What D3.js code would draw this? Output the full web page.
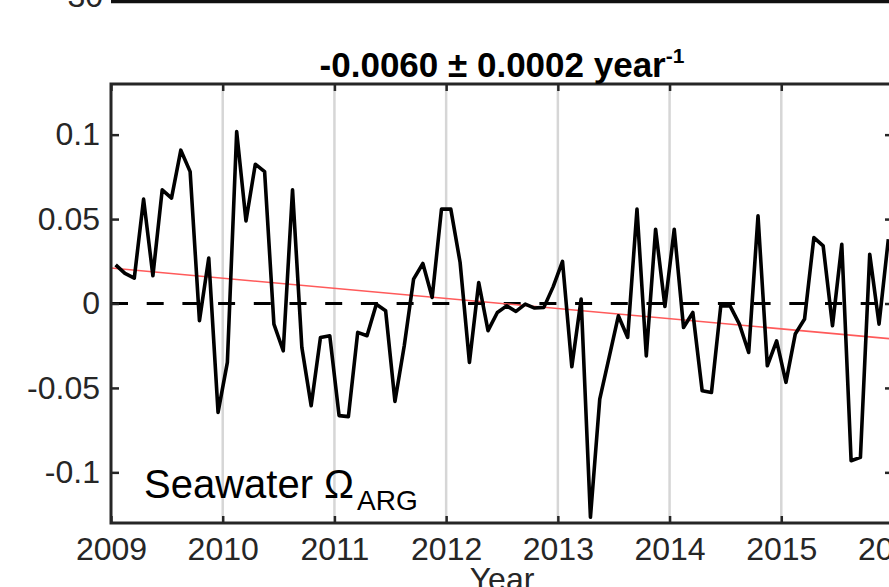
<!DOCTYPE html>
<html>
<head>
<meta charset="utf-8">
<script src="https://cdn.jsdelivr.net/npm/d3@7"></script>
<style>
  html, body { margin: 0; padding: 0; background: #fff; overflow: hidden; }
  svg { display: block; }
  text { font-family: "Liberation Sans", Arial, Helvetica, sans-serif; }
</style>
</head>
<body>
<svg id="chart" width="889" height="587"></svg>
<script>
// Monthly seawater aragonite saturation anomaly, Jan 2009 - Dec 2015
const startYear = 2009;
const anomaly2009 = [0.0229, 0.0178, 0.0150, 0.0618, 0.0164, 0.0673, 0.0624, 0.0908, 0.0781, -0.0102, 0.0269, -0.0645];
const anomaly2010 = [-0.0349, 0.1018, 0.0489, 0.0825, 0.0781, -0.0122, -0.0280, 0.0673, -0.0260, -0.0605, -0.0201, -0.0191];
const anomaly2011 = [-0.0664, -0.0670, -0.0171, -0.0191, -0.0004, -0.0043, -0.0580, -0.0250, 0.0144, 0.0237, 0.0036, 0.0559];
const anomaly2012 = [0.0559, 0.0243, -0.0349, 0.0124, -0.0161, -0.0053, -0.0014, -0.0047, -0.0004, -0.0027, -0.0023, 0.0100];
const anomaly2013 = [0.0249, -0.0375, 0.0026, -0.1266, -0.0566, -0.0320, -0.0073, -0.0201, 0.0559, -0.0310, 0.0440, -0.0018];
const anomaly2014 = [0.0440, -0.0142, -0.0053, -0.0517, -0.0527, -0.0014, -0.0014, -0.0122, -0.0290, 0.0519, -0.0369, -0.0221];
const anomaly2015 = [-0.0467, -0.0181, -0.0092, 0.0390, 0.0341, -0.0132, 0.0351, -0.0931, -0.0911, 0.0292, -0.0122, 0.0381];

// Linear trend: slope (per year) and the year where it crosses zero
const trendSlope = -0.0060;
const trendSlopeErr = 0.0002;
const trendZeroYear = 2012.5;

const xTickYears = [2009, 2010, 2011, 2012, 2013, 2014, 2015, 2016];
const yTickValues = [0.1, 0.05, 0, -0.05, -0.1];
const yTickLabels = ["0.1", "0.05", "0", "-0.05", "-0.1"];

const series = [anomaly2009, anomaly2010, anomaly2011, anomaly2012, anomaly2013, anomaly2014, anomaly2015]
  .flat()
  .map((v, i) => ({ t: startYear + (i + 0.5) / 12, v }));

const svg = d3.select("#chart");
const plotL = 111, plotR = 893, plotT = 84, plotB = 523;

const x = d3.scaleLinear().domain([2009, 2016]).range([plotL, plotR]);
const y = d3.scaleLinear().domain([-0.13, 0.13]).range([plotB, plotT]);

// bottom edge of the panel above
svg.append("line")
  .attr("x1", plotL).attr("x2", plotR)
  .attr("y1", 1.5).attr("y2", 1.5)
  .attr("stroke", "#111").attr("stroke-width", 3.5);
svg.append("text")
  .attr("x", 103).attr("y", 7)
  .attr("text-anchor", "end")
  .attr("font-size", 32).attr("fill", "#262626")
  .text("-30");

// year grid lines
svg.append("g")
  .selectAll("line")
  .data(xTickYears.slice(1, -1))
  .join("line")
  .attr("x1", d => x(d)).attr("x2", d => x(d))
  .attr("y1", plotT).attr("y2", plotB)
  .attr("stroke", "#d6d6d6").attr("stroke-width", 2.5);

// zero reference
svg.append("line")
  .attr("x1", plotL).attr("x2", plotR)
  .attr("y1", y(0)).attr("y2", y(0))
  .attr("stroke", "#000").attr("stroke-width", 3)
  .attr("stroke-dasharray", "17,18.7");

// trend line
svg.append("line")
  .attr("x1", x(2009)).attr("x2", x(2016))
  .attr("y1", y(trendSlope * (2009 - trendZeroYear)))
  .attr("y2", y(trendSlope * (2016 - trendZeroYear)))
  .attr("stroke", "#ff5a5a").attr("stroke-width", 1.6);

// data
svg.append("path")
  .datum(series)
  .attr("fill", "none")
  .attr("stroke", "#000")
  .attr("stroke-width", 3.6)
  .attr("stroke-linejoin", "round")
  .attr("d", d3.line().x(d => x(d.t)).y(d => y(d.v)));

// axes with inward ticks
const axisStyle = g => {
  g.select(".domain").remove();
  g.selectAll(".tick line").attr("stroke", "#262626").attr("stroke-width", 2.5);
  g.selectAll(".tick text").attr("fill", "#262626").attr("font-size", 32)
    .attr("font-family", "'Liberation Sans', Arial, sans-serif");
};

svg.append("g")
  .attr("transform", `translate(${plotL},0)`)
  .call(d3.axisLeft(y).tickValues(yTickValues)
    .tickFormat((d, i) => yTickLabels[i]).tickSizeInner(-8).tickSizeOuter(0).tickPadding(11))
  .call(axisStyle);

svg.append("g")
  .attr("transform", `translate(${plotR},0)`)
  .call(d3.axisRight(y).tickValues(yTickValues).tickFormat("").tickSizeInner(-8).tickSizeOuter(0))
  .call(axisStyle);

svg.append("g")
  .attr("transform", `translate(0,${plotB})`)
  .call(d3.axisBottom(x).tickValues(xTickYears)
    .tickFormat(d3.format("d")).tickSizeInner(-7).tickSizeOuter(0).tickPadding(14))
  .call(axisStyle);

svg.append("g")
  .attr("transform", `translate(0,${plotT})`)
  .call(d3.axisTop(x).tickValues(xTickYears).tickFormat("").tickSizeInner(-7).tickSizeOuter(0))
  .call(axisStyle);

// axes box
svg.append("rect")
  .attr("x", plotL).attr("y", plotT)
  .attr("width", plotR - plotL).attr("height", plotB - plotT)
  .attr("fill", "none").attr("stroke", "#262626").attr("stroke-width", 3);

// title
const title = svg.append("text")
  .attr("x", (plotL + plotR) / 2).attr("y", 77)
  .attr("text-anchor", "middle")
  .attr("font-size", 35).attr("font-weight", "bold").attr("fill", "#000");
title.append("tspan").text(`${trendSlope.toFixed(4)} \u00B1 ${trendSlopeErr.toFixed(4)} year`);
title.append("tspan").attr("dy", -14).attr("font-size", 21).text("-1");

// x-axis label
svg.append("text")
  .attr("x", (plotL + plotR) / 2).attr("y", 590)
  .attr("text-anchor", "middle")
  .attr("font-size", 32).attr("fill", "#262626")
  .text("Year");

// panel label
const lab = svg.append("text")
  .attr("x", 144).attr("y", 498)
  .attr("font-size", 40).attr("fill", "#000");
lab.append("tspan").text("Seawater \u03A9");
lab.append("tspan").attr("dx", 3).attr("dy", 12).attr("font-size", 28).text("ARG");
</script>
</body>
</html>
